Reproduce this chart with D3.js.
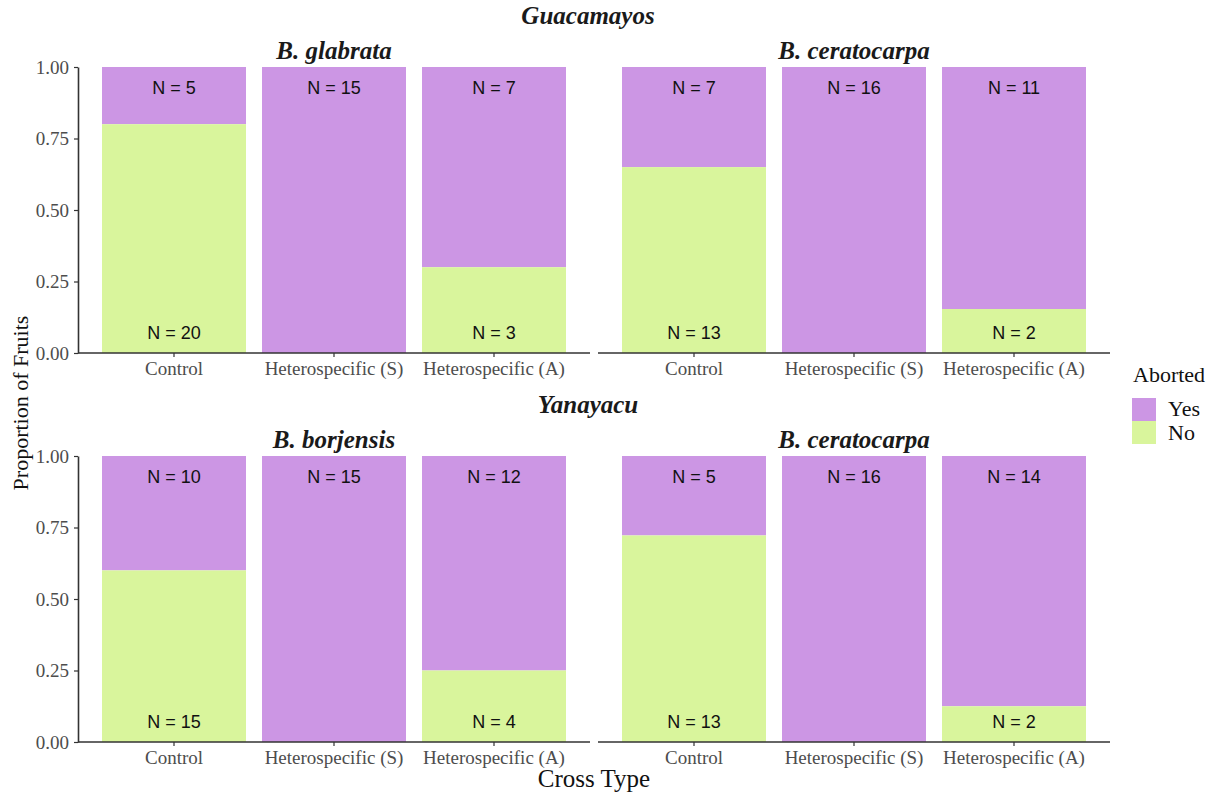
<!DOCTYPE html>
<html>
<head>
<meta charset="utf-8">
<script src="https://cdn.jsdelivr.net/npm/d3@7"></script>
<style>
  html, body { margin: 0; padding: 0; background: #fff; }
  svg { display: block; }
</style>
</head>
<body>
<svg id="chart" width="1223" height="799"></svg>
<script>
// Cross types along the x axis
const crossTypes = ["Control", "Heterospecific (S)", "Heterospecific (A)"];

// Site / species panels
const sites = ["Guacamayos", "Yanayacu"];
const panelSpecies = [
  ["B. glabrata", "B. ceratocarpa"],
  ["B. borjensis", "B. ceratocarpa"]
];

// Fruit counts per panel (order follows crossTypes): aborted (Yes) and not aborted (No)
const abortedYes = [
  [[5, 15, 7], [7, 16, 11]],
  [[10, 15, 12], [5, 16, 14]]
];
const abortedNo = [
  [[20, 0, 3], [13, 0, 2]],
  [[15, 0, 4], [13, 0, 2]]
];

const yTicks = [0, 0.25, 0.5, 0.75, 1];
const legendKeys = ["Yes", "No"];

const colors = { Yes: "#cc96e4", No: "#d9f59c" };

const svg = d3.select("#chart");
const serif = "'Liberation Serif', 'Times New Roman', serif";
const sans = "'Liberation Sans', Arial, sans-serif";

// Panel geometry
const panelLeft = [78, 598];
const panelWidth = 512;
const rowTop = [67, 456];
const panelHeight = 286;

const y = d3.scaleLinear().domain([0, 1]);

sites.forEach((site, r) => {
  const top = rowTop[r];
  y.range([top + panelHeight, top]);

  // site strip title
  svg.append("text")
    .attr("x", 588).attr("y", top - 43)
    .attr("text-anchor", "middle")
    .attr("font-family", serif).attr("font-size", 25)
    .attr("font-weight", "bold").attr("font-style", "italic")
    .attr("fill", "#1a1a1a")
    .text(site);

  panelSpecies[r].forEach((sp, c) => {
    const left = panelLeft[c];
    const x = d3.scaleBand().domain(crossTypes)
      .range([left, left + panelWidth]).paddingInner(0.1).paddingOuter(0.15);

    svg.append("text")
      .attr("x", left + panelWidth / 2).attr("y", top - 8)
      .attr("text-anchor", "middle")
      .attr("font-family", serif).attr("font-size", 25)
      .attr("font-weight", "bold").attr("font-style", "italic")
      .attr("fill", "#1a1a1a")
      .text(sp);

    const g = svg.append("g");
    crossTypes.forEach((ct, i) => {
      const yes = abortedYes[r][c][i], no = abortedNo[r][c][i];
      const total = yes + no;
      const pNo = no / total;
      // No at bottom, Yes stacked on top
      g.append("rect")
        .attr("x", x(ct)).attr("width", x.bandwidth())
        .attr("y", y(1)).attr("height", y(pNo) - y(1))
        .attr("fill", colors.Yes);
      if (no > 0) {
        g.append("rect")
          .attr("x", x(ct)).attr("width", x.bandwidth())
          .attr("y", y(pNo)).attr("height", y(0) - y(pNo))
          .attr("fill", colors.No);
      }
      const cx = x(ct) + x.bandwidth() / 2;
      if (yes > 0) {
        g.append("text")
          .attr("x", cx).attr("y", y(1) + 27)
          .attr("text-anchor", "middle")
          .attr("font-family", sans).attr("font-size", 18)
          .attr("fill", "#111")
          .text("N = " + yes);
      }
      if (no > 0) {
        g.append("text")
          .attr("x", cx).attr("y", y(0) - 14)
          .attr("text-anchor", "middle")
          .attr("font-family", sans).attr("font-size", 18)
          .attr("fill", "#111")
          .text("N = " + no);
      }
    });

    // x axis
    const xAxis = svg.append("g")
      .attr("transform", `translate(0,${top + panelHeight})`)
      .call(d3.axisBottom(x).tickSize(4).tickPadding(4.5));
    xAxis.select(".domain").attr("stroke", "#333").attr("stroke-width", 1.6)
      .attr("d", `M${left},0H${left + panelWidth}`);
    xAxis.selectAll(".tick line").attr("stroke", "#333").attr("stroke-width", 1.2);
    xAxis.selectAll(".tick text")
      .attr("font-family", serif).attr("font-size", 19).attr("fill", "#4d4d4d");

    // y axis (left panel only)
    if (c === 0) {
      const yAxis = svg.append("g")
        .attr("transform", `translate(${left},0)`)
        .call(d3.axisLeft(y).tickValues(yTicks).tickFormat(d3.format(".2f"))
          .tickSize(4).tickSizeOuter(0).tickPadding(5));
      yAxis.select(".domain").attr("stroke", "#333").attr("stroke-width", 1.6);
      yAxis.selectAll(".tick line").attr("stroke", "#333").attr("stroke-width", 1.2);
      yAxis.selectAll(".tick text")
        .attr("font-family", serif).attr("font-size", 19).attr("fill", "#4d4d4d");
    }
  });
});

// axis titles
svg.append("text")
  .attr("x", 594).attr("y", 787)
  .attr("text-anchor", "middle")
  .attr("font-family", serif).attr("font-size", 25).attr("fill", "#111")
  .text("Cross Type");

svg.append("text")
  .attr("transform", "translate(28,403) rotate(-90)")
  .attr("text-anchor", "middle")
  .attr("font-family", serif).attr("font-size", 22).attr("fill", "#111")
  .text("Proportion of Fruits");

// legend
const legend = svg.append("g").attr("transform", "translate(1133,0)");
legend.append("text")
  .attr("x", 0).attr("y", 382)
  .attr("font-family", serif).attr("font-size", 22).attr("fill", "#111")
  .text("Aborted");
legendKeys.forEach((k, i) => {
  legend.append("rect")
    .attr("x", -1).attr("y", 398 + i * 23)
    .attr("width", 24).attr("height", 23)
    .attr("fill", colors[k]);
  legend.append("text")
    .attr("x", 35).attr("y", 416 + i * 24)
    .attr("font-family", serif).attr("font-size", 22).attr("fill", "#111")
    .text(k);
});
</script>
</body>
</html>
